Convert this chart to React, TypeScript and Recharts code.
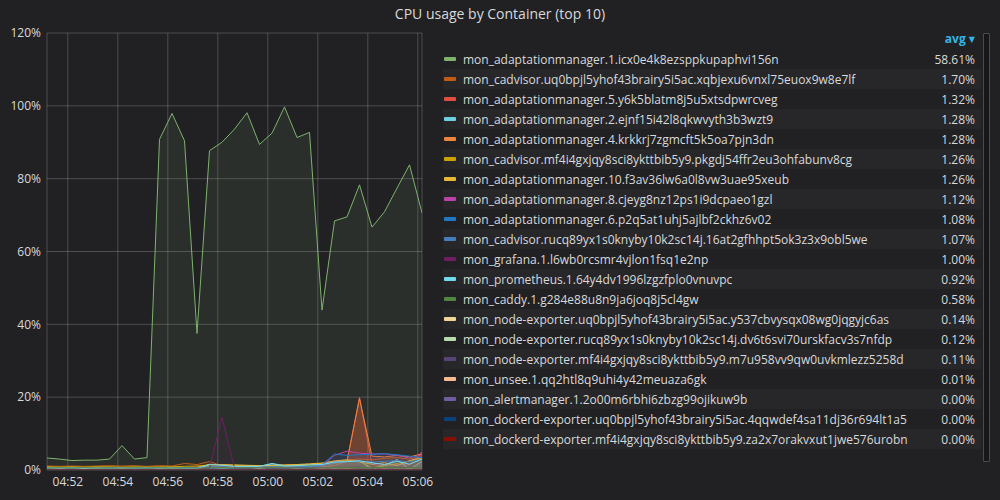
import React from 'react';
import { ComposedChart, Area, XAxis, YAxis, CartesianGrid } from 'recharts';

const times = [
  '04:51:10', '04:51:40', '04:52:10', '04:52:40', '04:53:10', '04:53:40', '04:54:10', '04:54:40',
  '04:55:10', '04:55:40', '04:56:10', '04:56:40', '04:57:10', '04:57:40', '04:58:10', '04:58:40',
  '04:59:10', '04:59:40', '05:00:10', '05:00:40', '05:01:10', '05:01:40', '05:02:10', '05:02:40',
  '05:03:10', '05:03:40', '05:04:10', '05:04:40', '05:05:10', '05:05:40', '05:06:10',
];

const xTickLabels = ['04:52', '04:54', '04:56', '04:58', '05:00', '05:02', '05:04', '05:06'];
const yTicks = [0, 20, 40, 60, 80, 100, 120];

const seriesNames = [
  'mon_adaptationmanager.1.icx0e4k8ezsppkupaphvi156n',
  'mon_cadvisor.uq0bpjl5yhof43brairy5i5ac.xqbjexu6vnxl75euox9w8e7lf',
  'mon_adaptationmanager.5.y6k5blatm8j5u5xtsdpwrcveg',
  'mon_adaptationmanager.2.ejnf15i42l8qkwvyth3b3wzt9',
  'mon_adaptationmanager.4.krkkrj7zgmcft5k5oa7pjn3dn',
  'mon_cadvisor.mf4i4gxjqy8sci8ykttbib5y9.pkgdj54ffr2eu3ohfabunv8cg',
  'mon_adaptationmanager.10.f3av36lw6a0l8vw3uae95xeub',
  'mon_adaptationmanager.8.cjeyg8nz12ps1i9dcpaeo1gzl',
  'mon_adaptationmanager.6.p2q5at1uhj5ajlbf2ckhz6v02',
  'mon_cadvisor.rucq89yx1s0knyby10k2sc14j.16at2gfhhpt5ok3z3x9obl5we',
  'mon_grafana.1.l6wb0rcsmr4vjlon1fsq1e2np',
  'mon_prometheus.1.64y4dv1996lzgzfplo0vnuvpc',
  'mon_caddy.1.g284e88u8n9ja6joq8j5cl4gw',
  'mon_node-exporter.uq0bpjl5yhof43brairy5i5ac.y537cbvysqx08wg0jqgyjc6as',
  'mon_node-exporter.rucq89yx1s0knyby10k2sc14j.dv6t6svi70urskfacv3s7nfdp',
  'mon_node-exporter.mf4i4gxjqy8sci8ykttbib5y9.m7u958vv9qw0uvkmlezz5258d',
  'mon_unsee.1.qq2htl8q9uhi4y42meuaza6gk',
  'mon_alertmanager.1.2o00m6rbhi6zbzg99ojikuw9b',
  'mon_dockerd-exporter.uq0bpjl5yhof43brairy5i5ac.4qqwdef4sa11dj36r694lt1a5',
  'mon_dockerd-exporter.mf4i4gxjqy8sci8ykttbib5y9.za2x7orakvxut1jwe576urobn',
];

const seriesColors = [
  '#7EB26D', '#C15C17', '#E24D42', '#6ED0E0', '#EF843C', '#CCA300', '#EAB839', '#BA43A9',
  '#1F78C1', '#447EBC', '#6D1F62', '#70DBED', '#508642', '#F4D598', '#B7DBAB', '#584477',
  '#F9BA8F', '#705DA0', '#0A437C', '#890F02',
];

const avgLabels = [
  '58.61%', '1.70%', '1.32%', '1.28%', '1.28%', '1.26%', '1.26%', '1.12%', '1.08%', '1.07%',
  '1.00%', '0.92%', '0.58%', '0.14%', '0.12%', '0.11%', '0.01%', '0.00%', '0.00%', '0.00%',
];

const adaptationmanager1 = [3.3, 3.0, 2.6, 2.7, 2.7, 3.0, 6.7, 3.0, 3.4, 90.8, 97.9, 90.4, 37.5, 87.7, 90.0, 93.6, 98.1, 89.4, 92.5, 99.7, 91.3, 92.7, 43.9, 68.4, 69.5, 78.3, 66.7, 70.9, 77.4, 83.8, 70.6];
const cadvisorUq0 = [1.1, 1.0, 1.1, 1.0, 1.1, 1.2, 1.1, 1.2, 1.0, 1.2, 1.1, 1.8, 1.5, 2.3, 1.2, 1.1, 1.1, 1.2, 1.3, 1.3, 1.4, 1.5, 1.8, 2.4, 2.8, 3.0, 2.8, 3.2, 3.4, 3.0, 3.6];
const adaptationmanager5 = [0.4, 0.4, 0.3, 0.4, 0.4, 0.5, 0.4, 0.4, 0.5, 0.4, 0.5, 0.5, 0.4, 0.6, 0.5, 0.4, 0.5, 0.4, 0.5, 0.5, 0.4, 0.6, 0.9, 1.2, 2.5, 20.0, 1.5, 1.2, 1.6, 1.4, 5.0];
const adaptationmanager2 = [0.4, 0.4, 0.3, 0.4, 0.4, 0.4, 0.4, 0.4, 0.3, 0.4, 0.4, 0.4, 0.3, 1.6, 1.4, 1.1, 1.0, 1.0, 1.8, 1.2, 1.3, 1.5, 1.6, 2.0, 2.4, 2.6, 0.1, 1.3, 2.9, 0.1, 2.4];
const adaptationmanager4 = [0.6, 0.7, 0.6, 0.7, 0.6, 0.7, 0.6, 0.7, 0.6, 0.7, 0.6, 0.7, 0.8, 1.0, 0.8, 0.7, 0.7, 0.8, 0.8, 0.9, 0.9, 1.0, 1.3, 1.8, 2.4, 19.6, 3.8, 3.6, 4.0, 3.6, 4.4];
const cadvisorMf4 = [0.9, 0.8, 0.9, 0.8, 0.9, 0.9, 0.8, 0.9, 0.8, 0.9, 0.9, 1.0, 1.1, 1.4, 1.5, 1.3, 1.2, 1.1, 1.2, 1.3, 1.3, 1.5, 1.8, 2.3, 2.6, 2.4, 0.6, 1.2, 1.8, 2.4, 3.2];
const adaptationmanager10 = [0.6, 0.6, 0.6, 0.5, 0.6, 0.6, 0.6, 0.6, 0.6, 0.6, 0.6, 0.6, 0.7, 1.5, 1.5, 1.4, 1.3, 1.2, 1.3, 1.4, 1.5, 1.7, 1.9, 2.5, 2.8, 2.2, 1.6, 2.0, 1.2, 2.6, 3.4];
const adaptationmanager8 = [0.3, 0.3, 0.3, 0.3, 0.3, 0.3, 0.3, 0.3, 0.3, 0.3, 0.3, 0.3, 0.3, 0.4, 0.4, 0.4, 0.4, 0.4, 0.5, 0.4, 0.5, 0.6, 1.2, 4.0, 5.2, 4.6, 4.4, 4.4, 4.0, 3.3, 4.2];
const adaptationmanager6 = [0.3, 0.3, 0.3, 0.3, 0.3, 0.3, 0.3, 0.3, 0.3, 0.3, 0.3, 0.3, 0.3, 0.4, 0.4, 0.4, 0.4, 0.4, 0.5, 0.4, 0.5, 0.6, 1.5, 4.4, 4.0, 4.2, 4.3, 4.5, 4.2, 3.8, 3.4];
const cadvisorRucq = [0.6, 0.6, 0.6, 0.6, 0.6, 0.7, 0.6, 0.6, 0.6, 0.7, 0.6, 0.7, 0.7, 0.9, 0.9, 0.8, 0.8, 0.8, 0.9, 0.9, 0.9, 1.0, 1.3, 2.0, 2.3, 2.4, 2.2, 2.4, 2.6, 2.2, 3.0];
const grafana1 = [0.4, 0.4, 0.4, 0.4, 0.4, 0.4, 0.4, 0.4, 0.4, 0.4, 0.4, 0.4, 0.4, 0.5, 14.5, 0.5, 0.5, 0.5, 0.5, 0.5, 0.5, 0.5, 0.6, 0.7, 0.7, 0.8, 0.6, 0.6, 0.7, 0.6, 0.7];
const prometheus1 = [0.5, 0.5, 0.5, 0.4, 0.5, 0.5, 0.5, 0.5, 0.5, 0.5, 0.5, 0.5, 0.4, 1.5, 1.3, 1.0, 1.0, 1.0, 1.7, 1.1, 1.2, 1.4, 1.5, 2.2, 2.3, 2.5, 2.0, 1.5, 2.4, 1.6, 3.0];
const caddy1 = [0.5, 0.6, 0.5, 0.6, 0.5, 0.6, 0.5, 0.6, 0.5, 0.6, 0.5, 0.6, 0.5, 0.6, 0.6, 0.5, 0.6, 0.5, 0.6, 0.6, 0.5, 0.6, 0.6, 0.7, 0.6, 0.7, 0.6, 0.7, 0.6, 0.6, 0.7];
const nodeExporterUq0 = [0.1, 0.2, 0.1, 0.2, 0.1, 0.1, 0.2, 0.1, 0.1, 0.2, 0.1, 0.1, 0.2, 0.1, 0.2, 0.1, 0.1, 0.2, 0.1, 0.1, 0.2, 0.1, 0.2, 0.1, 0.2, 0.1, 0.1, 0.2, 0.1, 0.2, 0.1];
const nodeExporterRucq = [0.1, 0.1, 0.1, 0.1, 0.2, 0.1, 0.1, 0.1, 0.1, 0.1, 0.2, 0.1, 0.1, 0.1, 0.1, 0.1, 0.1, 0.2, 0.1, 0.1, 0.1, 0.1, 0.1, 0.2, 0.1, 0.1, 0.1, 0.1, 0.2, 0.1, 0.1];
const nodeExporterMf4 = [0.1, 0.1, 0.1, 0.1, 0.1, 0.1, 0.1, 0.1, 0.1, 0.1, 0.1, 0.1, 0.2, 0.1, 0.1, 0.1, 0.1, 0.1, 0.1, 0.1, 0.1, 0.1, 0.1, 0.1, 0.1, 0.2, 0.1, 0.1, 0.1, 0.1, 0.1];
const unsee1 = [0.01, 0.01, 0.01, 0.01, 0.01, 0.01, 0.01, 0.01, 0.01, 0.01, 0.01, 0.01, 0.01, 0.01, 0.01, 0.01, 0.01, 0.01, 0.01, 0.01, 0.01, 0.01, 0.01, 0.01, 0.01, 0.01, 0.01, 0.01, 0.01, 0.01, 0.01];
const alertmanager1 = [0, 0, 0, 0, 0, 0, 0, 0, 0, 0, 0, 0, 0, 0, 0, 0, 0, 0, 0, 0, 0, 0, 0, 0, 0, 0, 0, 0, 0, 0, 0];
const dockerdExporterUq0 = [0, 0, 0, 0, 0, 0, 0, 0, 0, 0, 0, 0, 0, 0, 0, 0, 0, 0, 0, 0, 0, 0, 0, 0, 0, 0, 0, 0, 0, 0, 0];
const dockerdExporterMf4 = [0, 0, 0, 0, 0, 0, 0, 0, 0, 0, 0, 0, 0, 0, 0, 0, 0, 0, 0, 0, 0, 0, 0, 0, 0, 0, 0, 0, 0, 0, 0];

const seriesValues = [
  adaptationmanager1, cadvisorUq0, adaptationmanager5, adaptationmanager2, adaptationmanager4,
  cadvisorMf4, adaptationmanager10, adaptationmanager8, adaptationmanager6, cadvisorRucq,
  grafana1, prometheus1, caddy1, nodeExporterUq0, nodeExporterRucq, nodeExporterMf4,
  unsee1, alertmanager1, dockerdExporterUq0, dockerdExporterMf4,
];

const toSec = (s: string) => {
  const p = s.split(':').map(Number);
  return p[0] * 3600 + p[1] * 60 + (p[2] || 0);
};

const rows = times.map((t, i) => {
  const r: Record<string, number> = { t: toSec(t) };
  seriesValues.forEach((vals, k) => {
    r['s' + k] = vals[i];
  });
  return r;
});

const xTicks = xTickLabels.map(toSec);
const tickLabelOf = (v: number) => {
  const idx = xTicks.indexOf(v);
  return idx >= 0 ? xTickLabels[idx] : '';
};

const TEXT = '#d8d9da';
const BG = '#212124';
const FONT = '"Open Sans", "DejaVu Sans", sans-serif';

export default function App() {
  return (
    <div
      style={{
        position: 'absolute', left: 0, top: 0, width: 1000, height: 500,
        background: BG, fontFamily: FONT, overflow: 'hidden',
      }}
    >
      <div
        style={{
          position: 'absolute', left: 0, top: 4, width: 1000, textAlign: 'center',
          color: TEXT, fontSize: 14, lineHeight: '20px',
        }}
      >
        CPU usage by Container (top 10)
      </div>

      <div style={{ position: 'absolute', left: 0, top: 0 }}>
        <ComposedChart
          width={450}
          height={500}
          data={rows}
          margin={{ top: 33, right: 28, bottom: 0, left: 0 }}
        >
          <CartesianGrid stroke="#ffffff" strokeOpacity={0.2} fill="none" />
          <XAxis
            dataKey="t"
            type="number"
            domain={[toSec(times[0]), toSec(times[times.length - 1])]}
            ticks={xTicks}
            tickFormatter={tickLabelOf}
            axisLine={false}
            tickLine={false}
            tickSize={5}
            tickMargin={2}
            height={30}
            tick={{ fill: TEXT, fontSize: 12 }}
            allowDataOverflow
          />
          <YAxis
            type="number"
            domain={[0, 120]}
            ticks={yTicks}
            tickFormatter={(v: number) => `${v}%`}
            axisLine={false}
            tickLine={false}
            tickSize={4}
            tickMargin={2}
            width={47}
            tick={{ fill: TEXT, fontSize: 12 }}
            allowDataOverflow
          />
          {seriesValues.map((_, k) => (
            <Area
              key={k}
              type="linear"
              dataKey={'s' + k}
              name={seriesNames[k]}
              stroke={seriesColors[k]}
              strokeWidth={1}
              fill={seriesColors[k]}
              fillOpacity={k === 2 || k === 4 ? 0.2 : 0.1}
              dot={false}
              activeDot={false}
              isAnimationActive={false}
            />
          ))}
        </ComposedChart>
      </div>

      <div
        style={{
          position: 'absolute', left: 900, top: 31, width: 75, textAlign: 'right',
          color: '#33b5e5', fontSize: 12, fontWeight: 700, lineHeight: '16px',
        }}
      >
        avg <span style={{ fontSize: 8, position: 'relative', top: -1 }}>▼</span>
      </div>

      <div style={{ position: 'absolute', left: 443, top: 49, width: 538 }}>
        {seriesNames.map((name, k) => (
          <div
            key={k}
            style={{
              height: 20, display: 'flex', alignItems: 'center',
              background: k % 2 === 1 ? '#27272a' : 'transparent',
              color: TEXT, fontSize: 12, whiteSpace: 'nowrap',
            }}
          >
            <div
              style={{
                width: 12, height: 4, marginLeft: 1, marginRight: 7,
                background: seriesColors[k], borderRadius: 1, flex: 'none',
              }}
            />
            <div style={{ flex: 1, overflow: 'hidden' }}>{name}</div>
            <div style={{ width: 60, textAlign: 'right', paddingRight: 6 }}>{avgLabels[k]}</div>
          </div>
        ))}
      </div>

      <div
        style={{
          position: 'absolute', left: 983, top: 33, width: 5, height: 427,
          border: '1px solid #4a4a4e', background: '#161719', borderRadius: 1,
        }}
      />
    </div>
  );
}
